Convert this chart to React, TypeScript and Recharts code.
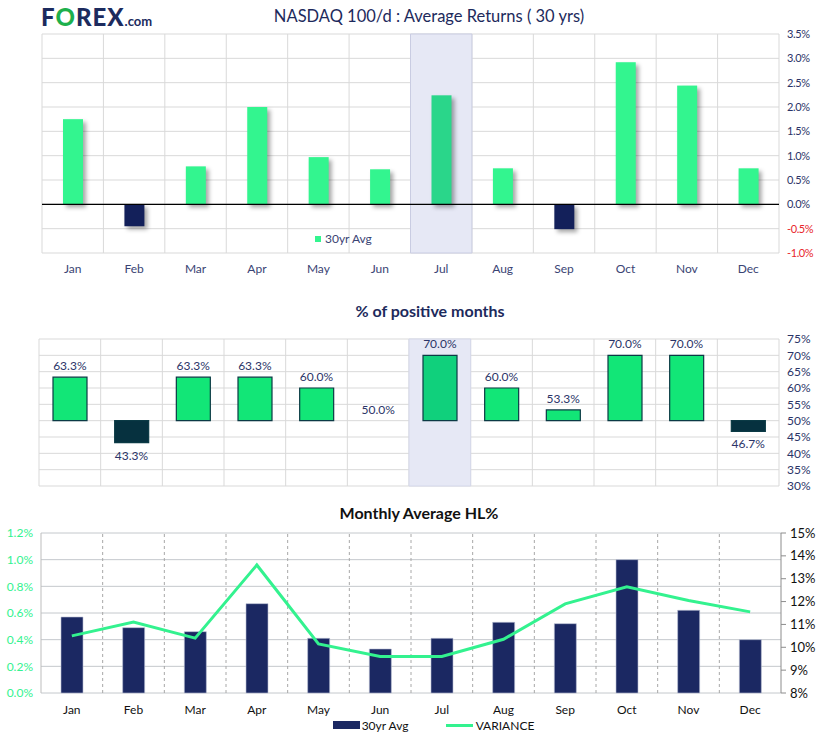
import React from 'react';
import {
  BarChart, Bar, ComposedChart, Line, XAxis, YAxis, CartesianGrid, Cell,
  ReferenceArea, ReferenceLine, LabelList, Legend,
} from 'recharts';

const months = ['Jan', 'Feb', 'Mar', 'Apr', 'May', 'Jun', 'Jul', 'Aug', 'Sep', 'Oct', 'Nov', 'Dec'];
const avgReturns = [1.75, -0.45, 0.78, 2.0, 0.97, 0.72, 2.24, 0.74, -0.51, 2.92, 2.44, 0.74];
const positivePct = [63.3, 43.3, 63.3, 63.3, 60.0, 50.0, 70.0, 60.0, 53.3, 70.0, 70.0, 46.7];
const hlAvg = [0.57, 0.49, 0.46, 0.67, 0.41, 0.33, 0.41, 0.53, 0.52, 1.0, 0.62, 0.40];
const variance = [10.5, 11.1, 10.4, 13.6, 10.15, 9.6, 9.6, 10.35, 11.9, 12.65, 12.05, 11.55];
const returnTicks = [-1, -0.5, 0, 0.5, 1, 1.5, 2, 2.5, 3, 3.5];
const positiveTicks = [30, 35, 40, 45, 50, 55, 60, 65, 70, 75];
const hlTicks = [0, 0.2, 0.4, 0.6, 0.8, 1.0, 1.2];
const varianceTicks = [8, 9, 10, 11, 12, 13, 14, 15];
const highlightMonth = 'Jul';

const returnsData = months.map((m, i) => ({ month: m, ret: avgReturns[i] }));
const positiveData = months.map((m, i) => ({ month: m, pos: positivePct[i] }));
const hlData = months.map((m, i) => ({ month: m, hl: hlAvg[i], variance: variance[i] }));

const NAVY = '#1D2A5C';
const FONT = 'Lato, sans-serif';

const boundaries = ({ offset }: any) =>
  Array.from({ length: 13 }, (_, i) => offset.left + (i * offset.width) / 12);

const ShadowBar = (props: any) => {
  const { x, y, width, height, fill } = props;
  const top = height < 0 ? y + height : y;
  return (
    <rect x={x} y={top} width={width} height={Math.abs(height)} fill={fill}
      style={{ filter: 'drop-shadow(3px 3px 2px rgba(0,0,0,0.35))' }} />
  );
};

const ReturnTick = (props: any) => {
  const { x, y, payload } = props;
  const v = payload.value as number;
  return (
    <text x={x} y={y} dy={4} textAnchor="start" fontSize={11} fontFamily={FONT}
      fill={v < 0 ? '#E8262B' : '#2B3467'} letterSpacing={-0.4}>
      {v.toFixed(1)}%
    </text>
  );
};

const PosLabel = (props: any) => {
  const { x, y, value } = props;
  const v = Number(value);
  const ty = v >= 50 ? y - 7 : y + 17;
  return (
    <text x={x} y={ty} textAnchor="middle" fontSize={12} fontFamily={FONT} fill="#2B3467">
      {v.toFixed(1)}%
    </text>
  );
};

const HLLegend = () => (
  <div style={{ display: 'flex', alignItems: 'center', justifyContent: 'center', paddingLeft: 43, fontFamily: 'Lato, sans-serif', fontSize: 12, color: '#111', height: 20 }}>
    <div style={{ display: 'flex', alignItems: 'center', width: 113 }}>
      <span style={{ display: 'inline-block', width: 27, height: 8, background: '#1B2862', marginRight: 2 }} />
      <span>30yr Avg</span>
    </div>
    <div style={{ display: 'flex', alignItems: 'center' }}>
      <span style={{ display: 'inline-block', width: 27, height: 3, background: '#33F28F', marginRight: 3 }} />
      <span>VARIANCE</span>
    </div>
  </div>
);

export default function App() {
  return (
    <div style={{ position: 'absolute', left: 0, top: 0, width: 821, height: 744, background: '#fff', fontFamily: FONT, overflow: 'hidden' }}>
      {/* Logo */}
      <div style={{ position: 'absolute', left: 41, top: 2, fontFamily: FONT, fontWeight: 900, fontSize: 24, color: '#1C2B5E', letterSpacing: 1, whiteSpace: 'nowrap' }}>
        F<span style={{ color: '#1DB04C' }}>O</span>REX<span style={{ fontSize: 13, fontWeight: 700, letterSpacing: 0 }}>.com</span>
      </div>
      {/* Titles */}
      <div style={{ position: 'absolute', left: 429, top: 6, transform: 'translateX(-50%)', whiteSpace: 'nowrap', fontSize: 16.5, color: NAVY, fontFamily: FONT }}>
        NASDAQ 100/d : Average Returns ( 30 yrs)
      </div>
      <div style={{ position: 'absolute', left: 430, top: 301, transform: 'translateX(-50%)', whiteSpace: 'nowrap', fontSize: 16, fontWeight: 700, color: NAVY, fontFamily: FONT }}>
        % of positive months
      </div>
      <div style={{ position: 'absolute', left: 419, top: 503, transform: 'translateX(-50%)', whiteSpace: 'nowrap', fontSize: 16, fontWeight: 700, color: '#111', fontFamily: FONT }}>
        Monthly Average HL%
      </div>

      {/* Chart 1: average returns */}
      <div style={{ position: 'absolute', left: 0, top: 0 }}>
        <BarChart width={821} height={290} data={returnsData} margin={{ top: 34, right: 2, bottom: 7, left: 42 }}>
          <CartesianGrid stroke="#D9D9D9" verticalCoordinatesGenerator={boundaries} />
          <ReferenceArea x1={highlightMonth} x2={highlightMonth} fill="#E6E8F5" fillOpacity={1} stroke="#C9CCE2" />
          <XAxis dataKey="month" axisLine={false} tickLine={false} tickMargin={5} height={30}
            tick={{ fontSize: 12, fill: '#3A4474', fontFamily: FONT }} />
          <YAxis orientation="right" width={40} domain={[-1, 3.5]} ticks={returnTicks} axisLine={false} tickLine={false}
            tick={<ReturnTick />} interval={0} />
          <ReferenceLine y={0} stroke="#000" strokeWidth={1.2} />
          <Bar dataKey="ret" barSize={20} isAnimationActive={false} shape={<ShadowBar />}>
            {returnsData.map((d) => (
              <Cell key={d.month} fill={d.month === highlightMonth ? '#2AD68A' : d.ret < 0 ? '#13205A' : '#33F58F'} />
            ))}
          </Bar>
        </BarChart>
      </div>
      {/* in-plot legend for chart 1 */}
      <div style={{ position: 'absolute', left: 315, top: 231, display: 'flex', alignItems: 'center', fontSize: 12, color: '#3A4474', fontFamily: FONT }}>
        <span style={{ display: 'inline-block', width: 6, height: 6, background: '#33F58F', marginRight: 4 }} />
        <span>30yr Avg</span>
      </div>

      {/* Chart 2: % positive months */}
      <div style={{ position: 'absolute', left: 0, top: 300 }}>
        <ComposedChart width={821} height={200} data={positiveData} margin={{ top: 39, right: 0, bottom: 14, left: 39 }}>
          <CartesianGrid stroke="#D9D9D9" verticalCoordinatesGenerator={boundaries} />
          <ReferenceArea x1={highlightMonth} x2={highlightMonth} fill="#E6E8F5" fillOpacity={1} stroke="#D5D8EA" />
          <XAxis dataKey="month" hide />
          <YAxis orientation="right" width={42} domain={[30, 75]} ticks={positiveTicks} axisLine={false} tickLine={false}
            interval={0} tickFormatter={(v: number) => `${v}%`} tick={{ fontSize: 12, fill: '#2B3467', fontFamily: FONT }} />
          <Bar dataKey={(d: any) => [50, d.pos]} barSize={34} stroke="#0B3A45" strokeWidth={1.2} isAnimationActive={false}>
            {positiveData.map((d) => (
              <Cell key={d.month} fill={d.month === highlightMonth ? '#10D07C' : d.pos < 50 ? '#06313F' : '#12E677'} />
            ))}
          </Bar>
          <Line dataKey="pos" stroke="none" dot={false} activeDot={false} isAnimationActive={false} legendType="none">
            <LabelList dataKey="pos" content={<PosLabel />} />
          </Line>
        </ComposedChart>
      </div>

      {/* Chart 3: monthly average HL% */}
      <div style={{ position: 'absolute', left: 0, top: 500 }}>
        <ComposedChart width={821} height={244} data={hlData} margin={{ top: 33, right: 0, bottom: 9, left: 3 }}>
          <XAxis dataKey="month" axisLine={false} tickLine={false} tickMargin={6} height={22}
            tick={{ fontSize: 12, fill: '#111', fontFamily: FONT }} />
          <YAxis orientation="left" width={38} domain={[0, 1.2]} ticks={hlTicks} axisLine={false} tickLine={false}
            interval={0} tickFormatter={(v: number) => `${v.toFixed(1)}%`} tick={{ fontSize: 12, fill: '#33F28F', fontFamily: FONT }} />
          <YAxis yAxisId="right" orientation="right" width={40} domain={[8, 15]} ticks={varianceTicks}
            axisLine={{ stroke: '#8C8C8C' }} tickLine={{ stroke: '#8C8C8C' }} tickSize={5} tickMargin={4}
            interval={0} tickFormatter={(v: number) => `${v}%`} tick={{ fontSize: 13, fill: '#111', fontFamily: FONT }} />
          {hlTicks.map((t) => (
            <ReferenceLine key={`h${t}`} y={t} stroke="#C4C8CC" strokeWidth={1} ifOverflow="extendDomain" zIndex={-100} />
          ))}
          <ReferenceLine x="Jan" position="start" stroke="#BDBDBD" zIndex={-100} />
          {months.slice(1).map((m) => (
            <ReferenceLine key={m} x={m} position="start" stroke="#A8A8A8" strokeDasharray="3 3" zIndex={-100} />
          ))}
          <Legend verticalAlign="bottom" height={20} content={<HLLegend />} />
          <Bar dataKey="hl" name="30yr Avg" barSize={22} fill="#1B2862" isAnimationActive={false}
            stroke="#B9BED3" strokeWidth={0.6} />
          <Line yAxisId="right" dataKey="variance" name="VARIANCE" stroke="#33F28F" strokeWidth={3} dot={false}
            type="linear" isAnimationActive={false} />
        </ComposedChart>
      </div>
    </div>
  );
}
